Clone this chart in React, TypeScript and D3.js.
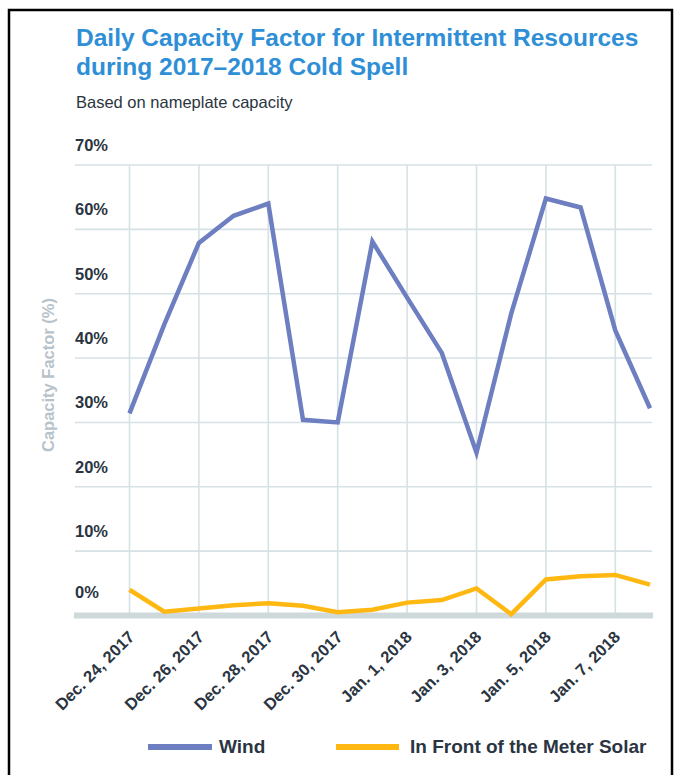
import React from "react";
import * as d3 from "d3";

// Daily capacity factor (%) by day, Dec 24 2017 – Jan 8 2018
const dates = [
  "2017-12-24", "2017-12-25", "2017-12-26", "2017-12-27", "2017-12-28", "2017-12-29",
  "2017-12-30", "2017-12-31", "2018-01-01", "2018-01-02", "2018-01-03", "2018-01-04",
  "2018-01-05", "2018-01-06", "2018-01-07", "2018-01-08",
];
const windValues = [31.4, 45.2, 57.9, 62.1, 64.0, 30.4, 30.0, 58.1, 49.4, 40.8, 25.3, 46.9, 64.8, 63.4, 44.3, 32.2];
const solarValues = [4.0, 0.6, 1.1, 1.6, 1.9, 1.5, 0.5, 0.9, 2.0, 2.4, 4.2, 0.2, 5.6, 6.1, 6.3, 4.8];

const tickDates = ["2017-12-24", "2017-12-26", "2017-12-28", "2017-12-30", "2018-01-01", "2018-01-03", "2018-01-05", "2018-01-07"];
const tickLabels = ["Dec. 24, 2017", "Dec. 26, 2017", "Dec. 28, 2017", "Dec. 30, 2017", "Jan. 1, 2018", "Jan. 3, 2018", "Jan. 5, 2018", "Jan. 7, 2018"];
const yTicks = [0, 10, 20, 30, 40, 50, 60, 70];

const seriesNames = ["Wind", "In Front of the Meter Solar"];

const WIDTH = 681;
const HEIGHT = 775;
const FONT = "'Liberation Sans', Arial, Helvetica, sans-serif";
const TEXT = "#2b3542";
const GRID = "#d6e1e5";
const WIND = "#6d7ec1";
const SOLAR = "#ffb812";

const parse = d3.utcParse("%Y-%m-%d");

export default function App() {
  const days = dates.map((d) => parse(d) as Date);
  const x = d3.scaleUtc().domain([days[0], days[days.length - 1]]).range([129.5, 650]);
  const y = d3.scaleLinear().domain([0, 70]).range([615.5, 165]);
  const gridLeft = 75;
  const gridRight = 652;

  const line = d3
    .line<number>()
    .x((_, i) => x(days[i]))
    .y((v) => y(v));

  const legend = [
    { name: seriesNames[0], color: WIND, x0: 148, x1: 212, tx: 219 },
    { name: seriesNames[1], color: SOLAR, x0: 336, x1: 399, tx: 410 },
  ];

  return (
    <svg
      width={WIDTH}
      height={HEIGHT}
      style={{ position: "absolute", left: 0, top: 0, background: "#fff" }}
      fontFamily={FONT}
    >
      <rect x={0} y={0} width={WIDTH} height={HEIGHT} fill="#fff" />
      {/* frame */}
      <rect x={9} y={10} width={663} height={790} fill="none" stroke="#000" strokeWidth={2.5} />

      {/* titles */}
      <text x={76} y={46} fontSize={24.5} fontWeight="bold" fill="#2f8fd6">
        Daily Capacity Factor for Intermittent Resources
      </text>
      <text x={76} y={75} fontSize={24.5} fontWeight="bold" fill="#2f8fd6">
        during 2017–2018 Cold Spell
      </text>
      <text x={76} y={108} fontSize={16.5} fill={TEXT}>
        Based on nameplate capacity
      </text>

      {/* horizontal grid */}
      {yTicks.filter((t) => t > 0).map((t) => (
        <line key={t} x1={gridLeft} x2={gridRight} y1={y(t)} y2={y(t)} stroke={GRID} strokeWidth={1.6} />
      ))}
      {/* vertical grid */}
      {tickDates.map((d) => {
        const px = x(parse(d) as Date);
        return <line key={d} x1={px} x2={px} y1={y(70)} y2={y(0)} stroke={GRID} strokeWidth={1.6} />;
      })}
      {/* baseline */}
      <rect x={74} y={y(0) - 3} width={gridRight + 1 - 74} height={6} fill="#cfd9dc" />

      {/* y tick labels */}
      {yTicks.map((t) => (
        <text
          key={t}
          x={75}
          y={t === 0 ? y(t) - 18 : y(t) - 14}
          fontSize={16.5}
          fontWeight="bold"
          fill={TEXT}
        >
          {`${t}%`}
        </text>
      ))}

      {/* y axis title */}
      <text
        transform={`translate(54, 375) rotate(-90)`}
        textAnchor="middle"
        fontSize={16.5}
        fontWeight="bold"
        fill="#b7c3ca"
      >
        Capacity Factor (%)
      </text>

      {/* x tick labels */}
      {tickDates.map((d, i) => {
        const px = x(parse(d) as Date);
        return (
          <text
            key={d}
            transform={`translate(${px + 6}, 638) rotate(-45)`}
            textAnchor="end"
            fontSize={16.5}
            fontWeight="bold"
            fill={TEXT}
          >
            {tickLabels[i]}
          </text>
        );
      })}

      {/* series */}
      <path d={line(windValues) ?? ""} fill="none" stroke={WIND} strokeWidth={4.5} strokeLinejoin="miter" />
      <path d={line(solarValues) ?? ""} fill="none" stroke={SOLAR} strokeWidth={4.5} strokeLinejoin="miter" />

      {/* legend */}
      {legend.map((l) => (
        <g key={l.name}>
          <line x1={l.x0} x2={l.x1} y1={747} y2={747} stroke={l.color} strokeWidth={6} />
          <text x={l.tx} y={753} fontSize={19} fontWeight="bold" fill={TEXT}>
            {l.name}
          </text>
        </g>
      ))}
    </svg>
  );
}
